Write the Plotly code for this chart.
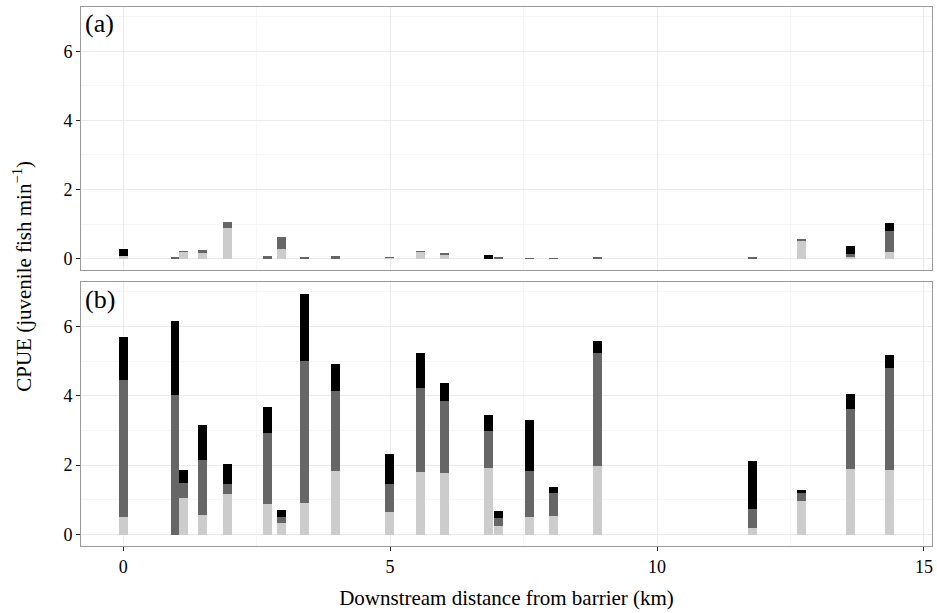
import plotly.graph_objects as go

# Site positions (km downstream from barrier)
distance_km = [0.00, 0.97, 1.13, 1.49, 1.96, 2.71, 2.96, 3.40, 3.98, 4.99, 5.57,
               6.02, 6.85, 7.03, 7.61, 8.06, 8.88, 11.79, 12.71, 13.62, 14.35]

# Panel (a) stacked components
light_a = [0.08, 0.00, 0.20, 0.16, 0.89, 0.00, 0.27, 0.00, 0.00, 0.02, 0.20,
           0.12, 0.00, 0.00, 0.00, 0.00, 0.00, 0.00, 0.52, 0.05, 0.20]
dark_a = [0.00, 0.02, 0.02, 0.10, 0.17, 0.07, 0.37, 0.02, 0.07, 0.02, 0.02,
          0.03, 0.00, 0.02, 0.015, 0.015, 0.02, 0.02, 0.02, 0.08, 0.60]
black_a = [0.20, 0.00, 0.00, 0.00, 0.00, 0.00, 0.00, 0.00, 0.00, 0.00, 0.00,
           0.00, 0.10, 0.00, 0.00, 0.00, 0.00, 0.00, 0.00, 0.24, 0.23]

# Panel (b) stacked components
light_b = [0.52, 0.00, 1.05, 0.58, 1.16, 0.88, 0.35, 0.90, 1.82, 0.64, 1.81,
           1.77, 1.91, 0.26, 0.52, 0.55, 1.99, 0.20, 0.96, 1.88, 1.85]
dark_b = [3.94, 4.02, 0.43, 1.56, 0.29, 2.04, 0.17, 4.11, 2.31, 0.81, 2.41,
          2.07, 1.09, 0.23, 1.32, 0.64, 3.24, 0.54, 0.23, 1.73, 2.95]
black_b = [1.23, 2.14, 0.37, 1.01, 0.60, 0.75, 0.20, 1.93, 0.78, 0.86, 1.01,
           0.52, 0.44, 0.20, 1.45, 0.17, 0.35, 1.37, 0.11, 0.44, 0.37]

panel_labels = ["(a)", "(b)"]
x_ticks = [0, 5, 10, 15]
y_ticks = [0, 2, 4, 6]

colors = ["#cccccc", "#666666", "#000000"]
BAR_W = 0.165
FONT = "Liberation Serif, Times New Roman, serif"

fig = go.Figure()
for (vals, col) in zip([light_a, dark_a, black_a], colors):
    fig.add_trace(go.Bar(x=distance_km, y=vals, width=BAR_W, marker=dict(color=col, line=dict(width=0)),
                         xaxis="x", yaxis="y", showlegend=False))
for (vals, col) in zip([light_b, dark_b, black_b], colors):
    fig.add_trace(go.Bar(x=distance_km, y=vals, width=BAR_W, marker=dict(color=col, line=dict(width=0)),
                         xaxis="x2", yaxis="y2", showlegend=False))

xr = [-0.79, 15.15]
yr = [-0.33, 7.28]
common_x = dict(range=xr, tickvals=x_ticks, showgrid=True, gridcolor="#ebebeb", gridwidth=1,
                minor=dict(showgrid=True, gridcolor="#f6f6f6", dtick=2.5, tick0=0, gridwidth=1),
                zeroline=False, showline=True, mirror=True, linecolor="#9a9a9a", linewidth=1,
                tickfont=dict(family=FONT, size=18, color="#000000"))
common_y = dict(range=yr, tickvals=y_ticks, showgrid=True, gridcolor="#ebebeb", gridwidth=1,
                minor=dict(showgrid=True, gridcolor="#f6f6f6", dtick=1, tick0=0, gridwidth=1),
                zeroline=False, showline=True, mirror=True, linecolor="#9a9a9a", linewidth=1,
                ticks="outside", ticklen=4, tickcolor="#222222",
                tickfont=dict(family=FONT, size=18, color="#000000"))

fig.update_layout(
    width=937, height=613,
    margin=dict(l=81, r=5, t=7, b=67),
    paper_bgcolor="white", plot_bgcolor="white",
    barmode="stack", bargap=0,
    font=dict(family=FONT, size=18, color="#000000"),
    xaxis=dict(common_x, domain=[0, 1], anchor="y", showticklabels=False, ticks=""),
    yaxis=dict(common_y, domain=[0.512, 1.0], anchor="x"),
    xaxis2=dict(common_x, domain=[0, 1], anchor="y2", ticks="outside", ticklen=4, tickcolor="#222222",
                title=dict(text="Downstream distance from barrier (km)", font=dict(family=FONT, size=21), standoff=14)),
    yaxis2=dict(common_y, domain=[0.0, 0.490], anchor="x2"),
    annotations=[
        dict(text=panel_labels[0], x=0.002, y=1.0, xref="paper", yref="paper", xanchor="left", yanchor="top",
             showarrow=False, font=dict(family=FONT, size=26)),
        dict(text=panel_labels[1], x=0.002, y=0.488, xref="paper", yref="paper", xanchor="left", yanchor="top",
             showarrow=False, font=dict(family=FONT, size=26)),
        dict(text="CPUE (juvenile fish min<sup>\u22121</sup>)", x=-0.069, y=0.5, xref="paper", yref="paper",
             xanchor="center", yanchor="middle", textangle=-90, showarrow=False,
             font=dict(family=FONT, size=21)),
    ],
)

fig.write_html("out.html", config={"displayModeBar": False},
               post_script="document.body.style.margin='0';document.body.style.overflow='hidden';")
